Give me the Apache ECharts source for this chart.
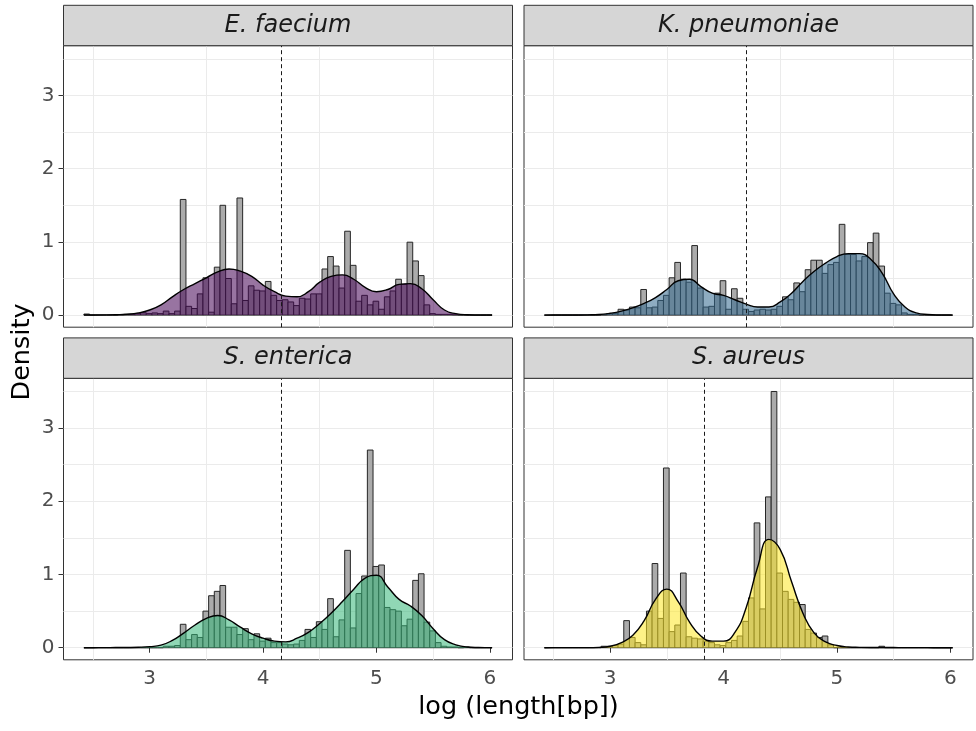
<!DOCTYPE html>
<html>
<head>
<meta charset="utf-8">
<script src="https://cdn.jsdelivr.net/npm/echarts@6/dist/echarts.min.js"></script>
<style>
  html, body { margin: 0; padding: 0; background: #ffffff; }
  #chart { width: 976px; height: 731px; }
</style>
</head>
<body>
<div id="chart"></div>
<script>
// Facet titles, fill colours and per-species cut-off (dashed line)
const speciesNames = ['E. faecium', 'K. pneumoniae', 'S. enterica', 'S. aureus'];
const fillColors = ['#440154', '#31688E', '#35B779', '#FDE725'];
const cutoffs = [4.155, 4.20, 4.155, 3.83];

// Histogram binning (log10 length), 72 bins of width 0.05
const BIN_START = 2.42;
const BIN_WIDTH = 0.05;

// Density of each bin, per species
const histEfaecium = [
  0.015, 0, 0, 0, 0, 0, 0.005, 0.01, 0.01, 0.02,
  0.033, 0.02, 0.03, 0.02, 0.055, 0.02, 0.055, 1.58, 0.12, 0.09,
  0.29, 0.51, 0.04, 0.655, 1.50, 0.50, 0.155, 1.60, 0.20, 0.40,
  0.34, 0.33, 0.46, 0.27, 0.20, 0.21, 0.18, 0.13, 0.23, 0.22,
  0.29, 0.29, 0.63, 0.80, 0.67, 0.37, 1.146, 0.68, 0.19, 0.27,
  0.14, 0.19, 0.08, 0.25, 0.33, 0.49, 0.42, 0.996, 0.74, 0.54,
  0.14, 0.02, 0.01, 0.01, 0.01, 0.005, 0, 0, 0, 0,
  0, 0
];
const histKpneumoniae = [
  0, 0, 0, 0, 0, 0, 0, 0, 0, 0,
  0.005, 0.02, 0.02, 0.08, 0.07, 0.11, 0.10, 0.35, 0.10, 0.11,
  0.20, 0.27, 0.51, 0.72, 0.49, 0.45, 0.95, 0.37, 0.11, 0.12,
  0.30, 0.47, 0.08, 0.36, 0.23, 0.08, 0.05, 0.07, 0.08, 0.07,
  0.08, 0.12, 0.25, 0.21, 0.44, 0.32, 0.62, 0.75, 0.75, 0.57,
  0.69, 0.72, 1.24, 0.83, 0.83, 0.74, 0.80, 0.99, 1.12, 0.67,
  0.30, 0.16, 0.14, 0.03, 0.01, 0.01, 0, 0, 0, 0,
  0, 0
];
const histSenterica = [
  0, 0, 0, 0, 0, 0, 0, 0, 0, 0,
  0, 0, 0, 0, 0.02, 0.02, 0.03, 0.32, 0.11, 0.18,
  0.14, 0.50, 0.71, 0.77, 0.85, 0.28, 0.28, 0.18, 0.26, 0.11,
  0.19, 0.09, 0.13, 0.07, 0.07, 0.05, 0.04, 0.05, 0.10, 0.25,
  0.14, 0.355, 0.25, 0.67, 0.15, 0.38, 1.33, 0.27, 0.74, 0.98,
  2.70, 1.11, 1.13, 0.55, 0.52, 0.50, 0.30, 0.39, 0.92, 1.01,
  0.35, 0.23, 0.07, 0.02, 0.01, 0.01, 0, 0.01, 0, 0,
  0, 0
];
const histSaureus = [
  0, 0, 0, 0, 0, 0, 0, 0, 0, 0,
  0.02, 0.02, 0.03, 0.05, 0.37, 0.14, 0.07, 0.04, 0.50, 1.15,
  0.40, 2.455, 0.22, 0.31, 1.02, 0.15, 0.13, 0.12, 0.09, 0.07,
  0.04, 0.03, 0.07, 0.10, 0.16, 0.36, 0.68, 1.705, 0.53, 2.06,
  3.50, 1.02, 0.77, 0.66, 0.62, 0.59, 0.25, 0.20, 0.14, 0.16,
  0.04, 0, 0, 0, 0, 0, 0, 0, 0, 0.02,
  0, 0, 0, 0, 0, 0, 0, 0, 0, 0,
  0, 0
];

// Kernel density estimates, sampled along log length
const densityX = [
  2.42, 2.5, 2.6, 2.7, 2.8, 2.9, 3.0, 3.1, 3.2, 3.3,
  3.4, 3.5, 3.6, 3.7, 3.8, 3.9, 4.0, 4.1, 4.2, 4.3,
  4.4, 4.5, 4.6, 4.7, 4.8, 4.9, 5.0, 5.1, 5.2, 5.3,
  5.4, 5.5, 5.6, 5.7, 5.8, 5.9, 6.0, 6.02
];
const densEfaecium = [
  0.002, 0.002, 0.003, 0.006, 0.012, 0.03, 0.07, 0.14, 0.25, 0.35,
  0.43, 0.51, 0.59, 0.63, 0.60, 0.53, 0.41, 0.32, 0.26, 0.25,
  0.32, 0.45, 0.53, 0.55, 0.49, 0.38, 0.32, 0.35, 0.42, 0.43,
  0.36, 0.21, 0.07, 0.02, 0.005, 0.002, 0.001, 0.001
];
const densKpneumoniae = [
  0, 0.001, 0.001, 0.002, 0.004, 0.008, 0.025, 0.055, 0.10, 0.16,
  0.24, 0.35, 0.47, 0.49, 0.39, 0.30, 0.27, 0.21, 0.15, 0.11,
  0.11, 0.18, 0.30, 0.46, 0.60, 0.71, 0.80, 0.84, 0.84, 0.76,
  0.57, 0.29, 0.11, 0.03, 0.008, 0.002, 0.001, 0
];
const densSenterica = [
  0, 0.0005, 0.001, 0.002, 0.003, 0.006, 0.015, 0.035, 0.10, 0.20,
  0.31, 0.40, 0.44, 0.38, 0.28, 0.19, 0.13, 0.09, 0.08, 0.13,
  0.21, 0.33, 0.47, 0.63, 0.80, 0.95, 0.99, 0.83, 0.66, 0.57,
  0.44, 0.26, 0.11, 0.04, 0.01, 0.003, 0.001, 0
];
const densSaureus = [
  0, 0.001, 0.001, 0.001, 0.001, 0.005, 0.02, 0.07, 0.17, 0.37,
  0.66, 0.80, 0.63, 0.35, 0.16, 0.09, 0.09, 0.21, 0.55, 1.10,
  1.48, 1.34, 0.90, 0.47, 0.20, 0.08, 0.03, 0.01, 0.005, 0.003,
  0.003, 0.002, 0.001, 0.001, 0.001, 0, 0, 0
];

// Axis ticks and grid positions
const xTicks = [3, 4, 5, 6];
const xGridVals = [2.5, 3.5, 4.5, 5.5];
const yTicks = [0, 1, 2, 3];
const yGridVals = [0, 0.5, 1, 1.5, 2, 2.5, 3, 3.5];

const histograms = [histEfaecium, histKpneumoniae, histSenterica, histSaureus];
const densities = [densEfaecium, densKpneumoniae, densSenterica, densSaureus];

const X_MIN = 2.24, X_MAX = 6.20;
const Y_MIN = -0.165, Y_MAX = 3.68;

const FONT = "'DejaVu Sans', 'Liberation Sans', sans-serif";
const PANEL_W = 449, PANEL_H = 281.5, STRIP_H = 40.4;
const panelPos = [
  { left: 63.5, top: 45.7 },
  { left: 524, top: 45.7 },
  { left: 63.5, top: 378.3 },
  { left: 524, top: 378.3 }
];

const grids = [], xAxes = [], yAxes = [], series = [], graphics = [];

panelPos.forEach((p, i) => {
  const isBottom = i >= 2;
  const isLeft = i % 2 === 0;
  grids.push({
    left: p.left, top: p.top, width: PANEL_W, height: PANEL_H,
    show: true, backgroundColor: '#ffffff', borderColor: '#333333', borderWidth: 1
  });
  // labelled axis (integers) and an unlabelled one carrying the grid lines
  xAxes.push({
    gridIndex: i, type: 'value', min: X_MIN, max: X_MAX, position: 'bottom',
    axisLine: { show: false },
    axisTick: { show: isBottom, length: 5, customValues: xTicks, lineStyle: { color: '#333333', width: 1 } },
    axisLabel: { show: isBottom, customValues: xTicks, fontSize: 20, color: '#4d4d4d', margin: 9, fontFamily: FONT },
    splitLine: { show: false }
  });
  xAxes.push({
    gridIndex: i, type: 'value', min: X_MIN, max: X_MAX, position: 'bottom',
    axisLine: { show: false },
    axisTick: { show: false, customValues: xGridVals },
    axisLabel: { show: false },
    splitLine: { show: true, lineStyle: { color: '#ebebeb', width: 1 } }
  });
  yAxes.push({
    gridIndex: i, type: 'value', min: Y_MIN, max: Y_MAX, position: 'left',
    axisLine: { show: false },
    axisTick: { show: isLeft, length: 5, customValues: yTicks, lineStyle: { color: '#333333', width: 1 } },
    axisLabel: { show: isLeft, customValues: yTicks, fontSize: 20, color: '#4d4d4d', margin: 9, fontFamily: FONT },
    splitLine: { show: false }
  });
  yAxes.push({
    gridIndex: i, type: 'value', min: Y_MIN, max: Y_MAX, position: 'left',
    axisLine: { show: false },
    axisTick: { show: false, customValues: yGridVals },
    axisLabel: { show: false },
    splitLine: { show: true, lineStyle: { color: '#ebebeb', width: 1 } }
  });

  const binData = histograms[i].map((h, k) => [
    BIN_START + k * BIN_WIDTH, BIN_START + (k + 1) * BIN_WIDTH, h
  ]);
  series.push({
    type: 'custom',
    xAxisIndex: 2 * i, yAxisIndex: 2 * i,
    coordinateSystem: 'cartesian2d',
    silent: true, z: 3,
    encode: { x: [0, 1], y: 2 },
    data: binData,
    renderItem: (params, api) => {
      const a = api.coord([api.value(0), 0]);
      const b = api.coord([api.value(1), api.value(2)]);
      return {
        type: 'rect',
        shape: { x: a[0], y: b[1], width: b[0] - a[0], height: a[1] - b[1] },
        style: { fill: '#ababab', stroke: '#262626', lineWidth: 1 }
      };
    }
  });

  series.push({
    type: 'line',
    xAxisIndex: 2 * i, yAxisIndex: 2 * i,
    data: densityX.map((x, k) => [x, densities[i][k]]),
    smooth: 0.5,
    symbol: 'none', silent: true, z: 5,
    lineStyle: { color: '#000000', width: 1.4 },
    areaStyle: { color: fillColors[i], opacity: 0.55 },
    markLine: {
      silent: true, symbol: 'none', z: 6,
      label: { show: false },
      lineStyle: { color: '#1a1a1a', width: 1, type: [4, 3] },
      data: [{ xAxis: cutoffs[i] }]
    }
  });

  // facet strip
  graphics.push({
    type: 'rect', z: 10,
    shape: { x: p.left, y: p.top - STRIP_H, width: PANEL_W, height: STRIP_H },
    style: { fill: '#d6d6d6', stroke: '#333333', lineWidth: 1 }
  });
  graphics.push({
    type: 'text', z: 11,
    x: p.left + PANEL_W / 2, y: p.top - STRIP_H / 2,
    style: {
      text: speciesNames[i], fill: '#1a1a1a', font: 'italic 24px ' + FONT,
      align: 'center', verticalAlign: 'middle'
    }
  });
});

graphics.push({
  type: 'text', z: 11, x: 518.5, y: 707,
  style: { text: 'log (length[bp])', fill: '#000000', font: '25.5px ' + FONT, align: 'center', verticalAlign: 'middle' }
});
graphics.push({
  type: 'text', z: 11, x: 22, y: 352, rotation: Math.PI / 2,
  style: { text: 'Density', fill: '#000000', font: '25.5px ' + FONT, align: 'center', verticalAlign: 'middle' }
});

const chart = echarts.init(document.getElementById('chart'), null, { renderer: 'canvas' });
chart.setOption({
  animation: false,
  backgroundColor: '#ffffff',
  grid: grids,
  xAxis: xAxes,
  yAxis: yAxes,
  series: series,
  graphic: graphics
});
</script>
</body>
</html>
